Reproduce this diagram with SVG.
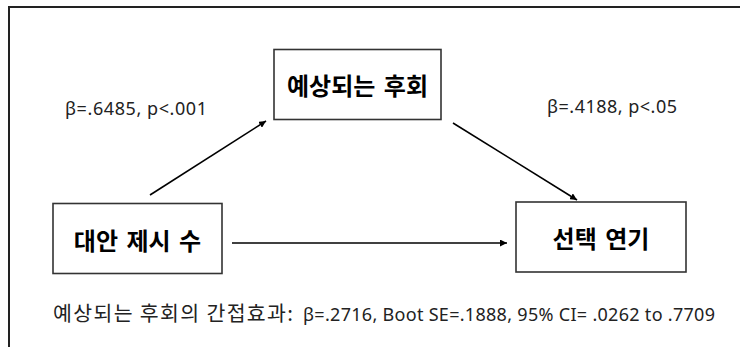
<svg xmlns="http://www.w3.org/2000/svg" width="740" height="347" viewBox="0 0 740 347">
<defs>
<style>
.frame{fill:none;stroke:#222;stroke-width:2}
.box{fill:#fff;stroke:#333;stroke-width:1.6}
.node{font-family:"Noto Sans CJK KR","Noto Sans",sans-serif;font-size:24px;font-weight:bold;fill:#000;text-anchor:middle;word-spacing:3px}
.lbl{font-family:"Noto Sans","Noto Sans CJK KR",sans-serif;font-size:18px;fill:#222}
.ko{font-family:"Noto Sans CJK KR","Noto Sans",sans-serif;font-size:20.5px}
.edge{stroke:#000;stroke-width:1.6;fill:none}
</style>
<marker id="ah" viewBox="0 0 10 10" refX="10" refY="5" markerWidth="7" markerHeight="7" markerUnits="userSpaceOnUse" orient="auto">
<path d="M0,0 L10,5 L0,10 z" fill="#000"/>
</marker>
</defs>
<rect width="740" height="347" fill="#fff"/>
<path class="frame" d="M9,347 V7 H740"/>
<g id="edges">
<line class="edge" x1="150" y1="195" x2="266" y2="121" marker-end="url(#ah)"/>
<line class="edge" x1="453" y1="123" x2="577" y2="200" marker-end="url(#ah)"/>
<line class="edge" x1="232" y1="243" x2="507" y2="243" marker-end="url(#ah)"/>
</g>
<g id="node-mediator">
<rect class="box" x="274" y="49.5" width="167" height="70"/>
<text class="node" x="357.5" y="95">예상되는 후회</text>
</g>
<g id="node-x">
<rect class="box" x="53" y="203.5" width="169" height="70"/>
<text class="node" x="137.5" y="249.5">대안 제시 수</text>
</g>
<g id="node-y">
<rect class="box" x="516" y="202" width="170" height="70"/>
<text class="node" x="601" y="247.5">선택 연기</text>
</g>
<g id="labels">
<text class="lbl" x="65" y="115" textLength="142">β=.6485, p&lt;.001</text>
<text class="lbl" x="547" y="113" textLength="130">β=.4188, p&lt;.05</text>
<text class="lbl" y="321"><tspan class="ko" x="53" textLength="240">예상되는 후회의 간접효과:</tspan><tspan x="303" textLength="412">β=.2716, Boot SE=.1888, 95% CI= .0262 to .7709</tspan></text>
</g>
</svg>
